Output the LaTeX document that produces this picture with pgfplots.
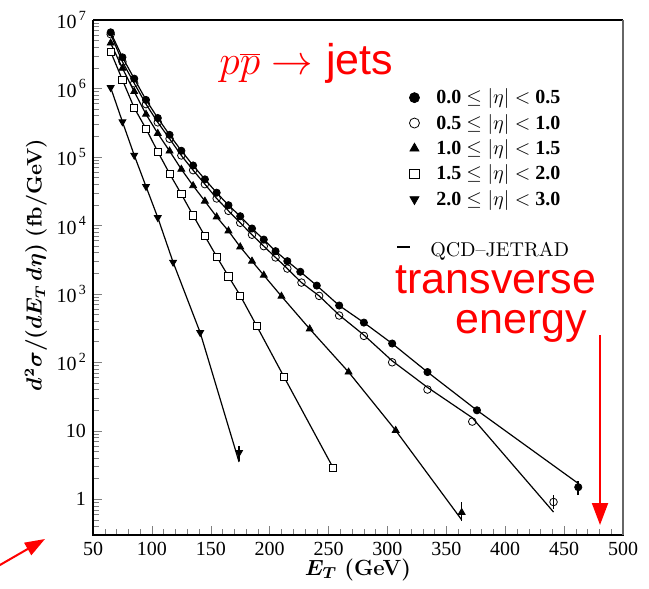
\documentclass[border=0pt]{standalone}
\usepackage{pgfplots}
\pgfplotsset{compat=1.18}
\usepackage{bm}
\usepackage{fontspec}
\newfontfamily\tnr{Liberation Serif}
\newfontfamily\arial{Liberation Sans}
\usetikzlibrary{arrows.meta}
\newcommand{\tp}[1]{10\raisebox{0.9ex}{\fontsize{7}{8}\selectfont\,#1}}
\newcommand{\etalab}[2]{\hspace{6.5pt}#1\ $\leq\vert\eta\vert<$\ #2}
\begin{document}
\begin{tikzpicture}
\begin{axis}[name=ax, scale only axis, width=265pt, height=257.5pt,
  xmin=50, xmax=500, ymode=log, ymin=0.3, ymax=1e7,
  xtick pos=bottom, ytick pos=left,
  tick align=inside,
  xtick={50,100,150,200,250,300,350,400,450,500},
  xticklabels={50,100,150,200,250,300,350,400,450,500},
  minor x tick num=4,
  ytick={1,10,100,1000,10000,100000,1000000,10000000},
  yticklabels={1,10,\tp{2},\tp{3},\tp{4},\tp{5},\tp{6},\tp{7}},
  minor ytick={0.3,0.4,0.5,0.6,0.7,0.8,0.9,2,3,4,5,6,7,8,9,20,30,40,50,60,70,80,90,200,300,400,500,600,700,800,900,2e3,3e3,4e3,5e3,6e3,7e3,8e3,9e3,2e4,3e4,4e4,5e4,6e4,7e4,8e4,9e4,2e5,3e5,4e5,5e5,6e5,7e5,8e5,9e5,2e6,3e6,4e6,5e6,6e6,7e6,8e6,9e6},
  major tick length=4.5pt, minor tick length=3pt,
  tick label style={font=\tnr\fontsize{10}{12}\selectfont},
  clip=false,
  legend style={draw=none, fill=none, at={(0.585,0.883)}, anchor=north west,
    font=\tnr\bfseries\fontsize{10}{12}\selectfont, row sep=-0.3pt},
  legend cell align=left,
]
\addplot[black, line width=0.6pt, forget plot] coordinates {
(65,6.6e6)(75,2.85e6)(85,1.39e6)(95,6.8e5)(105,3.7e5)(115,2.1e5)(125,1.23e5)(135,7.5e4)(145,4.7e4)(155,3.0e4)(165,1.97e4)(175,1.36e4)(185,9.0e3)(195,6.2e3)(205,4.2e3)(215,3.0e3)(226,2.1e3)(240,1.32e3)(259,675)(280,380)(304,188)(334,72)(376,19.9)(462,1.7)};
\addplot[black, line width=0.6pt, forget plot] coordinates {
(65,6.2e6)(75,2.45e6)(85,1.19e6)(95,5.9e5)(105,3.2e5)(115,1.84e5)(125,1.05e5)(135,6.4e4)(145,4.0e4)(155,2.47e4)(165,1.63e4)(175,1.09e4)(185,7.3e3)(195,4.97e3)(205,3.4e3)(215,2.34e3)(227,1.46e3)(242,933)(259,490)(280,250)(304,105)(334,43)(372,15.5)(441,0.65)};
\addplot[black, line width=0.6pt, forget plot] coordinates {
(65,4.6e6)(75,1.97e6)(85,9.0e5)(95,4.2e5)(105,2.2e5)(115,1.22e5)(125,6.6e4)(135,3.8e4)(145,2.26e4)(155,1.33e4)(165,8.3e3)(175,4.85e3)(185,3.0e3)(195,1.87e3)(210,922)(234,307)(267,72)(307,10.1)(363,0.5)};
\addplot[black, line width=0.6pt, forget plot] coordinates {
(65,3.44e6)(75,1.33e6)(85,5.2e5)(95,2.58e5)(105,1.19e5)(115,5.7e4)(125,2.86e4)(135,1.4e4)(145,6.96e3)(155,3.5e3)(165,1.8e3)(175,944)(189,339)(212,62)(254,2.85)};
\addplot[black, line width=0.6pt, forget plot] coordinates {
(65,1.03e6)(75,3.26e5)(85,1.06e5)(95,3.7e4)(105,1.3e4)(118,2.9e3)(141,272)(174,3.5)};
\addplot[only marks, mark=*, mark size=1.8pt, fill=black, draw=black, forget plot] coordinates {
(65,6.6e6)(75,2.85e6)(85,1.39e6)(95,6.8e5)(105,3.7e5)(115,2.1e5)(125,1.23e5)(135,7.5e4)(145,4.7e4)(155,3.0e4)(165,1.97e4)(175,1.36e4)(185,9.0e3)(195,6.2e3)(205,4.2e3)(215,3.0e3)(226,2.1e3)(240,1.32e3)(259,675)(280,380)(304,188)(334,72)(376,19.9)(462,1.5)};
\addplot[only marks, mark=o, mark size=1.9pt, fill=white, draw=black, forget plot] coordinates {
(65,6.2e6)(75,2.45e6)(85,1.19e6)(95,5.9e5)(105,3.2e5)(115,1.84e5)(125,1.05e5)(135,6.4e4)(145,4.0e4)(155,2.47e4)(165,1.63e4)(175,1.09e4)(185,7.3e3)(195,4.97e3)(205,3.4e3)(215,2.34e3)(227,1.46e3)(242,933)(259,482)(280,243)(304,100)(334,40)(372,13.6)(441,0.91)};
\addplot[only marks, mark=triangle*, mark size=2pt, fill=black, draw=black, forget plot] coordinates {
(65,4.6e6)(75,1.97e6)(85,9.0e5)(95,4.2e5)(105,2.2e5)(115,1.22e5)(125,6.6e4)(135,3.8e4)(145,2.26e4)(155,1.33e4)(165,8.3e3)(175,4.85e3)(185,3.0e3)(195,1.87e3)(210,922)(234,307)(267,72)(307,10.1)(363,0.64)};
\addplot[only marks, mark=square*, mark size=1.8pt, fill=white, draw=black, forget plot] coordinates {
(65,3.44e6)(75,1.33e6)(85,5.2e5)(95,2.58e5)(105,1.19e5)(115,5.7e4)(125,2.86e4)(135,1.4e4)(145,6.96e3)(155,3.5e3)(165,1.8e3)(175,944)(189,339)(212,62)(254,2.85)};
\addplot[only marks, mark=triangle*, mark size=2pt, fill=black, draw=black, mark options={rotate=180}, forget plot] coordinates {
(65,1.03e6)(75,3.26e5)(85,1.06e5)(95,3.7e4)(105,1.3e4)(118,2.9e3)(141,272)(174,4.8)};
\addplot[black, line width=0.8pt, forget plot] coordinates {(462,1.15)(462,1.85)};
\addplot[black, line width=0.7pt, forget plot] coordinates {(441,0.72)(441,1.15)};
\addplot[black, line width=0.8pt, forget plot] coordinates {(363,0.48)(363,0.9)};
\addplot[black, line width=0.7pt, forget plot] coordinates {(174,3.6)(174,6.0)};
\addlegendimage{only marks, mark=*, mark size=2.5pt, fill=black, draw=black}
\addlegendentry{\etalab{0.0}{0.5}}
\addlegendimage{only marks, mark=o, mark size=2.5pt, fill=white, draw=black}
\addlegendentry{\etalab{0.5}{1.0}}
\addlegendimage{only marks, mark=triangle*, mark size=2.6pt, fill=black, draw=black}
\addlegendentry{\etalab{1.0}{1.5}}
\addlegendimage{only marks, mark=square*, mark size=2.4pt, fill=white, draw=black}
\addlegendentry{\etalab{1.5}{2.0}}
\addlegendimage{only marks, mark=triangle*, mark size=2.6pt, fill=black, draw=black, mark options={rotate=180}}
\addlegendentry{\etalab{2.0}{3.0}}
\end{axis}
\draw[black, line width=0.9pt] (ax.north west) -- (ax.south west) -- (ax.south east);
\draw[black, line width=0.8pt] (ax.north west) -- (ax.north east);
\draw[black!60, line width=0.6pt] (ax.north east) -- (ax.south east);
\node[font=\fontsize{11}{13}\selectfont] at ([yshift=-17.5pt]ax.south) {$\bm{E_T}$ \textbf{(GeV)}};
\node[font=\fontsize{10.5}{12}\selectfont, rotate=90] at ([xshift=-28.5pt,yshift=6.2pt]ax.west) {$\bm{d^2\sigma/(dE_T\,d\eta)}$ \textbf{(fb/GeV)}};
\node[red, font=\fontsize{21.5}{25}\selectfont, anchor=base west, inner sep=0pt] at ([xshift=63pt,yshift=-27.5pt]ax.north west) {$p\overline{p}\rightarrow$ {\arial jets}};
\node[anchor=base west, inner sep=0pt, font=\fontsize{10}{12}\selectfont] at ([xshift=152pt,yshift=-118pt]ax.north west) {\rule[4pt]{6.5pt}{0.9pt}\hspace{10pt}QCD--JETRAD};
\node[red, font=\arial\fontsize{21.5}{25}\selectfont, anchor=base west, inner sep=0pt] at ([xshift=151pt,yshift=-136.5pt]ax.north west) {transverse};
\node[red, font=\arial\fontsize{21.5}{25}\selectfont, anchor=base west, inner sep=0pt] at ([xshift=181pt,yshift=-156.5pt]ax.north west) {energy};
\draw[red, line width=1pt, -{Triangle[length=11pt,width=8pt]}] ([xshift=253.5pt,yshift=-157.5pt]ax.north west) -- ([xshift=253.5pt,yshift=-252.5pt]ax.north west);
\draw[red, line width=1pt, -{Triangle[length=10pt,width=7pt]}] ([xshift=-50pt,yshift=-17pt]ax.south west) -- ([xshift=-24pt,yshift=-2pt]ax.south west);
\pgfresetboundingbox
\path ([xshift=-46.5pt,yshift=-26.5pt]ax.south west) rectangle ([xshift=13pt,yshift=10pt]ax.north east);
\end{tikzpicture}
\end{document}
